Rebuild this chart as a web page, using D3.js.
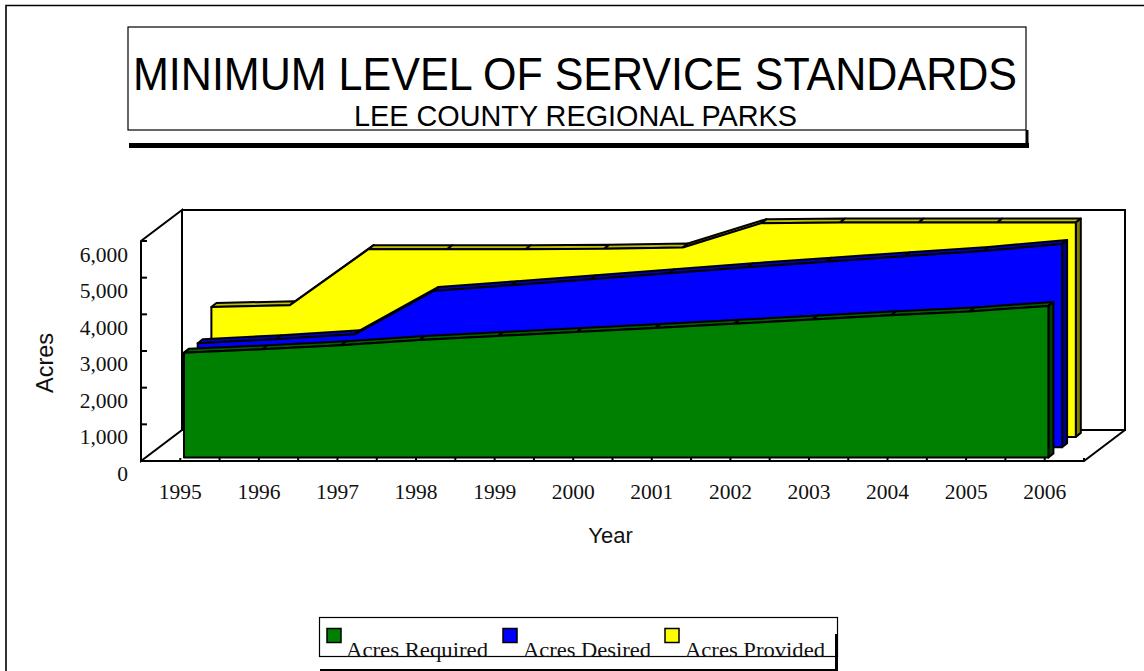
<!DOCTYPE html>
<html><head><meta charset="utf-8">
<script src="https://cdn.jsdelivr.net/npm/d3@7/dist/d3.min.js"></script>
<style>html,body{margin:0;padding:0;background:#fff}svg{display:block}</style>
</head><body><svg id="c" width="1144" height="671"></svg>
<script>
const years=["1995","1996","1997","1998","1999","2000","2001","2002","2003","2004","2005","2006"];
const acresRequired=[2860,2950,3060,3205,3315,3425,3535,3645,3765,3880,3985,4135];
const acresDesired=[2835,2945,3080,4260,4420,4580,4745,4910,5060,5210,5350,5545];
const acresProvided=[3545,3590,5120,5120,5120,5130,5165,5830,5845,5845,5845,5845];
const yTicks=[0,1000,2000,3000,4000,5000,6000];
const seriesNames=["Acres Required","Acres Desired","Acres Provided"];
const seriesFront=["#008000","#0000ff","#ffff00"];
const seriesTop=["#006000","#0000c0","#c0c000"];
const seriesSide=["#004000","#000080","#808000"];
const seriesValues=[acresRequired,acresDesired,acresProvided];

const svg=d3.select("#c");
const serif="'Liberation Serif','Times New Roman',serif", sans="'Liberation Sans',Arial,sans-serif";
const fx=141,fy=461,W=943,topY=241,dx=41,dy=-31;
const y=d3.scaleLinear().domain([0,6000]).range([fy,topY]);
const x=d3.scalePoint().domain(years).range([fx+W/24,fx+W-W/24]);
const lw=2;

// frame: top and left rules only
svg.append("path").attr("d","M6,671V5.5H1144").attr("fill","none").attr("stroke","#000").attr("stroke-width",1.6);

// title box
svg.append("rect").attr("x",128).attr("y",27).attr("width",898).attr("height",103).attr("fill","#fff").attr("stroke","#000").attr("stroke-width",1.2);
svg.append("rect").attr("x",129).attr("y",143).attr("width",900).attr("height",5);
svg.append("rect").attr("x",1025.5).attr("y",130).attr("width",3).attr("height",18);
svg.append("text").attr("x",575).attr("y",90).attr("text-anchor","middle").attr("font-family",sans).attr("font-size",47)
  .attr("textLength",884).attr("lengthAdjust","spacingAndGlyphs").text("MINIMUM LEVEL OF SERVICE STANDARDS");
svg.append("text").attr("x",575.5).attr("y",126).attr("text-anchor","middle").attr("font-family",sans).attr("font-size",29)
  .attr("textLength",443).attr("lengthAdjust","spacingAndGlyphs").text("LEE COUNTY REGIONAL PARKS");

// walls
const wall=svg.append("g").attr("fill","none").attr("stroke","#000").attr("stroke-width",lw).attr("stroke-linejoin","miter");
wall.append("path").attr("d",`M${fx},${fy}V${topY}L${fx+dx},${topY+dy}V${fy+dy}Z`);
wall.append("path").attr("d",`M${fx+dx},${topY+dy}H${fx+W+dx}V${fy+dy}H${fx+dx}`);
wall.append("path").attr("d",`M${fx},${fy}H${fx+W}L${fx+W+dx},${fy+dy}`);
// ticks
yTicks.forEach(v=>wall.append("line").attr("x1",fx).attr("x2",fx+6).attr("y1",y(v)).attr("y2",y(v)));
d3.range(0,24).forEach(i=>{ const tx=fx+W/24*(i+1); wall.append("line").attr("x1",tx).attr("x2",tx).attr("y1",fy).attr("y2",fy-3); });

// labels
const yLabel=d3.scaleLinear().domain([0,6000]).range([481,261.5]);
svg.append("g").selectAll("text").data(yTicks).join("text").attr("x",128).attr("y",d=>yLabel(d))
  .attr("text-anchor","end").attr("font-family",serif).attr("font-size",21.5).attr("fill","#111").text(d3.format(","));
svg.append("g").selectAll("text").data(years).join("text").attr("x",d=>x(d)).attr("y",499)
  .attr("text-anchor","middle").attr("font-family",serif).attr("font-size",21.5).attr("fill","#111").text(d=>d);
svg.append("text").attr("x",610.5).attr("y",543).attr("text-anchor","middle").attr("font-family",sans).attr("font-size",22).attr("fill","#111").text("Year");
svg.append("text").attr("transform","translate(53,363) rotate(-90)").attr("text-anchor","middle").attr("font-family",sans).attr("font-size",23.5).attr("fill","#111").text("Acres");

// series: back to front
const depthX=5,depthY=-4,stepX=13.7,stepY=-10.3,baseX=3.7,baseY=-3.5;
[2,1,0].forEach(s=>{
  const ox=baseX+stepX*s, oy=baseY+stepY*s, vals=seriesValues[s];
  const px=i=>x(years[i])+ox, py=i=>y(vals[i])+oy, by=y(0)+oy;
  const g=svg.append("g").attr("stroke","#000").attr("stroke-width",lw).attr("stroke-linejoin","round");
  d3.range(11).forEach(i=>{
    g.append("path").attr("fill",seriesTop[s]).attr("d",d3.line()([[px(i),py(i)],[px(i+1),py(i+1)],[px(i+1)+depthX,py(i+1)+depthY],[px(i)+depthX,py(i)+depthY]])+"Z");
  });
  g.append("path").attr("fill",seriesSide[s]).attr("d",d3.line()([[px(11),py(11)],[px(11),by],[px(11)+depthX,by+depthY],[px(11)+depthX,py(11)+depthY]])+"Z");
  const area=d3.area().x((d,i)=>px(i)).y0(by).y1((d,i)=>py(i));
  g.append("path").attr("fill",seriesFront[s]).attr("d",area(vals));
});

// legend
svg.append("rect").attr("x",319.5).attr("y",617.5).attr("width",518).attr("height",39).attr("fill","#fff").attr("stroke","#000").attr("stroke-width",1.2);
svg.append("rect").attr("x",835).attr("y",634).attr("width",3).attr("height",37);
svg.append("rect").attr("x",320).attr("y",669).attr("width",516).attr("height",2);
const lgX=[327,503,665], txtX=[346,523,685], txtW=[142,128,140];
seriesNames.forEach((n,i)=>{
  svg.append("rect").attr("x",lgX[i]).attr("y",628.5).attr("width",14).attr("height",14).attr("fill",seriesFront[i]).attr("stroke","#000").attr("stroke-width",1.5);
  svg.append("text").attr("x",txtX[i]).attr("y",657).attr("font-family",serif).attr("font-size",22).attr("fill","#111").attr("textLength",txtW[i]).attr("lengthAdjust","spacingAndGlyphs").text(n);
});
</script></body></html>
